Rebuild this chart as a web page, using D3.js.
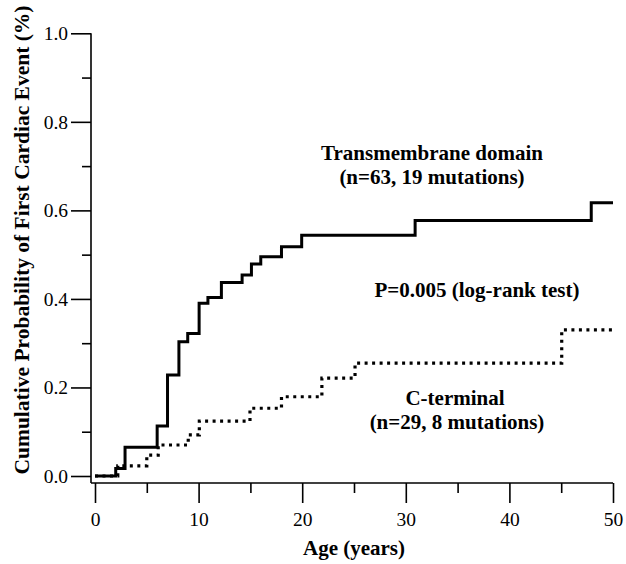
<!DOCTYPE html>
<html>
<head>
<meta charset="utf-8">
<title>Cumulative probability of first cardiac event</title>
<script src="https://cdn.jsdelivr.net/npm/d3@7"></script>
<style>
  body { margin: 0; background: #fff; }
  svg text { font-family: "Liberation Serif", "DejaVu Serif", serif; fill: #000; }
  .axis line, .axis path { stroke: #000; stroke-width: 1.6; }
  .tick text { font-size: 19.5px; }
  .lbl { font-size: 21px; font-weight: bold; }
  .ylbl { font-size: 21.5px; font-weight: bold; }
</style>
</head>
<body>
<div id="chart"></div>
<script>
// Transmembrane domain (solid)
var tmAge  = [0, 2.0, 2.9, 6.0, 7.0, 8.1, 8.95, 10.05, 10.9, 12.2, 14.2, 15.1, 16.0, 18.0, 19.95, 30.9, 47.9, 50];
var tmProb = [0, 0.017, 0.065, 0.113, 0.228, 0.303, 0.322, 0.390, 0.403, 0.437, 0.454, 0.479, 0.495, 0.518, 0.544, 0.577, 0.617, 0.617];
// C-terminal (dotted)
var ctAge  = [0, 2.2, 5.0, 6.1, 9.0, 10.07, 14.96, 18.0, 21.9, 25.1, 45.05, 50];
var ctProb = [0, 0.023, 0.047, 0.070, 0.093, 0.124, 0.153, 0.179, 0.221, 0.255, 0.330, 0.330];

var xMajor = [0, 10, 20, 30, 40, 50];
var xMinor = [5, 15, 25, 35, 45];
var yMajor = [0, 0.2, 0.4, 0.6, 0.8, 1.0];
var yMinor = [0.1, 0.3, 0.5, 0.7, 0.9];

var width = 626, height = 564;
var svg = d3.select("#chart").append("svg")
    .attr("width", width)
    .attr("height", height);

var x = d3.scaleLinear().domain([0, 50]).range([95, 613]);
var y = d3.scaleLinear().domain([0, 1]).range([476, 33.3]);

var axisX = 91, axisY = 483;

// y axis
var gy = svg.append("g").attr("class", "axis").attr("transform", "translate(" + axisX + ",0)");
gy.call(d3.axisLeft(y).tickValues(yMajor).tickSize(20).tickPadding(3).tickFormat(d3.format(".1f")));
gy.select(".domain").remove();
gy.append("g").call(d3.axisLeft(y).tickValues(yMinor).tickSize(9).tickFormat(""))
  .select(".domain").remove();
gy.append("line").attr("x1", 0).attr("x2", 0).attr("y1", y(1)).attr("y2", axisY);

// x axis
var gx = svg.append("g").attr("class", "axis").attr("transform", "translate(0," + axisY + ")");
gx.call(d3.axisBottom(x).tickValues(xMajor).tickSize(20).tickPadding(9));
gx.select(".domain").remove();
gx.append("g").call(d3.axisBottom(x).tickValues(xMinor).tickSize(10).tickFormat(""))
  .select(".domain").remove();
gx.append("line").attr("x1", axisX).attr("x2", x(50)).attr("y1", 0).attr("y2", 0);

// curves
var line = d3.line()
    .x(function(d) { return x(d[0]); })
    .y(function(d) { return y(d[1]); })
    .curve(d3.curveStepAfter);

svg.append("path")
    .datum(d3.zip(ctAge, ctProb))
    .attr("d", line)
    .attr("fill", "none")
    .attr("stroke", "#000")
    .attr("stroke-width", 3.2)
    .attr("stroke-dasharray", "3,4.5");

svg.append("path")
    .datum(d3.zip(tmAge, tmProb))
    .attr("d", line)
    .attr("fill", "none")
    .attr("stroke", "#000")
    .attr("stroke-width", 3);

// labels
svg.append("text").attr("class", "ylbl")
    .attr("transform", "translate(29,240) rotate(-90)")
    .attr("text-anchor", "middle")
    .text("Cumulative Probability of First Cardiac Event (%)");

svg.append("text").attr("class", "lbl")
    .attr("x", x(25)).attr("y", 555)
    .attr("text-anchor", "middle")
    .text("Age (years)");

var notes = [
  {t: "Transmembrane domain", cx: 432, by: 160},
  {t: "(n=63, 19 mutations)", cx: 432, by: 184},
  {t: "P=0.005 (log-rank test)", cx: 477, by: 297},
  {t: "C-terminal", cx: 455, by: 405},
  {t: "(n=29, 8 mutations)", cx: 457, by: 429}
];
svg.selectAll(".note").data(notes).enter().append("text")
    .attr("class", "lbl note")
    .attr("x", function(d) { return d.cx; })
    .attr("y", function(d) { return d.by; })
    .attr("text-anchor", "middle")
    .text(function(d) { return d.t; });
</script>
</body>
</html>
